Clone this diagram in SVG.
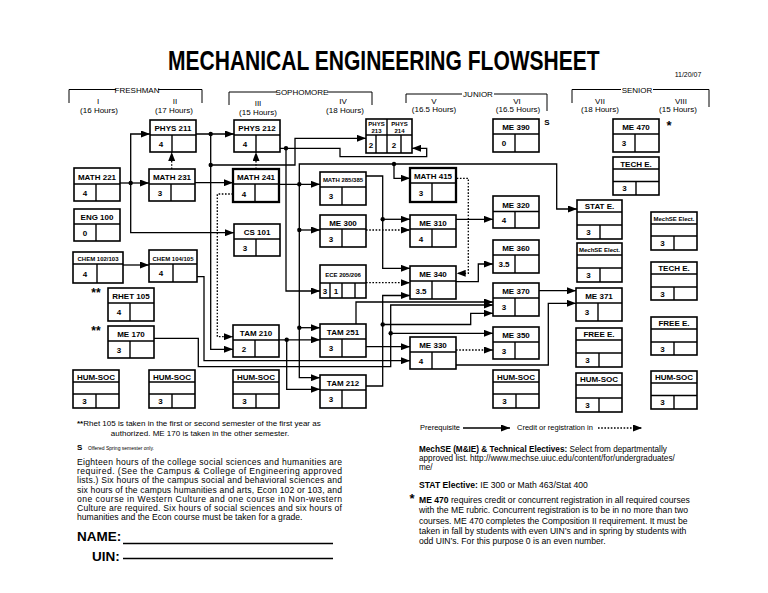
<svg xmlns="http://www.w3.org/2000/svg" width="768" height="593" viewBox="0 0 768 593">
<defs>
<marker id="ah" markerWidth="9" markerHeight="7" refX="9" refY="3.5" orient="auto" markerUnits="userSpaceOnUse"><path d="M0,0 L9,3.5 L0,7 z" fill="#000"/></marker>
<style>
text{font-family:"Liberation Sans",Arial,sans-serif;fill:#000}
.node rect{fill:#fff;stroke:#000;stroke-width:1.6}
.node line{stroke:#000;stroke-width:1.4}
.node.thick rect{stroke-width:2.3}
.hd{font-size:8px;font-weight:bold;text-anchor:middle}
.hs{font-size:6px;font-weight:bold;text-anchor:middle}
.nm{font-size:8px;font-weight:bold;text-anchor:middle}
.br{fill:none;stroke:#000;stroke-width:1}
.sem{font-size:8px;text-anchor:middle;fill:#000}
.ln{fill:none;stroke:#000;stroke-width:1.3}
.arr{marker-end:url(#ah)}
.dt{stroke-dasharray:1.6 1.6}
.jd{fill:#000}
.note{font-size:8.6px}
.nr{font-size:8.2px}
.b{font-weight:bold}
</style>
</defs>
<rect width="768" height="593" fill="#fff"/>

<text transform="translate(168,70) scale(0.751,1)" font-size="28" font-weight="bold">MECHANICAL ENGINEERING FLOWSHEET</text>
<text x="688" y="77" font-size="7" text-anchor="middle">11/20/07</text>

<g id="header">
<path class="br" d="M69,103 V89.5 H116 M158,89.5 H202 V103"/>
<text class="sem" x="137" y="92.5">FRESHMAN</text>
<text class="sem" x="98" y="104">I</text><text class="sem" x="99" y="113">(16 Hours)</text>
<text class="sem" x="175" y="104">II</text><text class="sem" x="174" y="113">(17 Hours)</text>
<path class="br" d="M229,105 V92 H277 M327,92 H372 V105"/>
<text class="sem" x="302" y="95">SOPHOMORE</text>
<text class="sem" x="258" y="106">III</text><text class="sem" x="258" y="115">(15 Hours)</text>
<text class="sem" x="343" y="104">IV</text><text class="sem" x="345" y="113">(18 Hours)</text>
<path class="br" d="M406,103 V94 H462 M494,94 H547 V111"/>
<text class="sem" x="478" y="97">JUNIOR</text>
<text class="sem" x="434" y="104">V</text><text class="sem" x="434" y="112">(16.5 Hours)</text>
<text class="sem" x="517" y="104">VI</text><text class="sem" x="518" y="112">(16.5 Hours)</text>
<path class="br" d="M572,103 V89.5 H621 M653,89.5 H709 V107"/>
<text class="sem" x="637" y="92.5">SENIOR</text>
<text class="sem" x="600" y="104">VII</text><text class="sem" x="600" y="112">(18 Hours)</text>
<text class="sem" x="681" y="104">VIII</text><text class="sem" x="678" y="112">(15 Hours)</text>
</g>

<g id="connectors">
<path class="ln arr" d="M120,183 H149"/>
<path class="ln arr" d="M130.7,183 V134 H150"/>
<path class="ln arr" d="M130.7,183 V232.7 H234"/>
<path class="ln arr" d="M196,134 H234"/>
<path class="ln arr" d="M210.7,134 V349.3 H233"/>
<path class="ln arr" d="M210.7,165 H295 V138.3 H366"/>
<path class="ln dt arr" d="M171.7,169 V152"/>
<path class="ln arr" d="M195,182.7 H233"/>
<path class="ln dt arr" d="M256,169 V152"/>
<path class="ln dt arr" d="M233,194 H217.3 V336.7 H233"/>
<path class="ln arr" d="M280,148.3 H340 V156.7 H426.7 V148.3 H412"/>
<path class="ln arr" d="M286,148.3 V291 H320"/>
<path class="ln arr" d="M279,184.3 H320"/>
<path class="ln arr" d="M299.3,184.3 V164 H556.7 V209 H577"/>
<path class="ln arr" d="M394,164 V178.3 H410"/>
<path class="ln arr" d="M299.3,184.3 V377.7 H320"/>
<path class="ln arr" d="M299.3,230 H320"/>
<path class="ln arr" d="M299.3,327.7 H320"/>
<path class="ln arr" d="M123,265 H149"/>
<path class="ln arr" d="M197,276.7 H204 V360.7 H410"/>
<path class="ln arr" d="M154,338.3 H198.3 V366.7 H390.7 V305 H493"/>
<path class="ln arr" d="M390.7,333.3 H493"/>
<path class="ln arr" d="M279,339.8 H320"/>
<path class="ln arr" d="M286.7,339.8 V389.3 H320"/>
<path class="ln arr" d="M366,176 H382.7 V268.3 H410"/>
<path class="ln arr" d="M382.7,219.3 H410"/>
<path class="ln dt arr" d="M366,230 H410"/>
<path class="ln dt arr" d="M456.7,178.3 H468.3 V273.3 H456.7"/>
<path class="ln arr" d="M456,219.3 H493"/>
<path class="ln arr" d="M456,281.7 H478.3 V264 H493"/>
<path class="ln dt arr" d="M366,282.7 H410"/>
<path class="ln arr" d="M366,386 H382.7 V295.5 H410"/>
<path class="ln arr" d="M382.7,324.5 H470.7 V313.3 H493"/>
<path class="ln arr" d="M356,324 V302 H493"/>
<path class="ln arr" d="M366,346.7 H410"/>
<path class="ln dt arr" d="M456,350 H493"/>
<path class="ln arr" d="M539,290.7 H576"/>
<path class="ln arr" d="M456,365 H548.3 V303.3 H576"/>
<circle class="jd" cx="130.7" cy="183" r="2.2"/>
<circle class="jd" cx="210.7" cy="134" r="2.2"/>
<circle class="jd" cx="210.7" cy="165" r="2.2"/>
<circle class="jd" cx="286" cy="148.3" r="2.2"/>
<circle class="jd" cx="299.3" cy="184.3" r="2.2"/>
<circle class="jd" cx="299.3" cy="230" r="2.2"/>
<circle class="jd" cx="299.3" cy="327.7" r="2.2"/>
<circle class="jd" cx="394" cy="164" r="2.2"/>
<circle class="jd" cx="286.7" cy="339.8" r="2.2"/>
<circle class="jd" cx="382.7" cy="219.3" r="2.2"/>
<circle class="jd" cx="382.7" cy="324.5" r="2.2"/>
<circle class="jd" cx="390.7" cy="333.3" r="2.2"/>
</g>

<g id="phys211" class="node"><rect x="150" y="120" width="46" height="32"/><line x1="150" y1="135" x2="196" y2="135"/><line x1="172" y1="135" x2="172" y2="152"/><text class="hd" x="173" y="131">PHYS 211</text><text class="nm" x="161" y="146.5">4</text></g>
<g id="phys212" class="node"><rect x="234" y="120" width="46" height="32"/><line x1="234" y1="135" x2="280" y2="135"/><line x1="256" y1="135" x2="256" y2="152"/><text class="hd" x="257" y="131">PHYS 212</text><text class="nm" x="245" y="146.5">4</text></g>
<g id="math221" class="node"><rect x="74" y="168" width="46" height="33"/><line x1="74" y1="184" x2="120" y2="184"/><line x1="96" y1="184" x2="96" y2="201"/><text class="hd" x="97" y="179.5">MATH 221</text><text class="nm" x="85" y="196">4</text></g>
<g id="math231" class="node"><rect x="149" y="169" width="46" height="32"/><line x1="149" y1="184" x2="195" y2="184"/><line x1="171" y1="184" x2="171" y2="201"/><text class="hd" x="172" y="180">MATH 231</text><text class="nm" x="160" y="196">3</text></g>
<g id="math241" class="node thick"><rect x="233" y="169" width="46" height="33"/><line x1="233" y1="184" x2="279" y2="184"/><line x1="255" y1="184" x2="255" y2="202"/><text class="hd" x="256" y="180">MATH 241</text><text class="nm" x="244" y="196.5">4</text></g>
<g id="eng100" class="node"><rect x="74" y="209" width="46" height="32"/><line x1="74" y1="224" x2="120" y2="224"/><line x1="96" y1="224" x2="96" y2="241"/><text class="hd" x="97" y="220">ENG 100</text><text class="nm" x="85" y="236">0</text></g>
<g id="cs101" class="node"><rect x="234" y="224" width="46" height="32"/><line x1="234" y1="239" x2="280" y2="239"/><line x1="256" y1="239" x2="256" y2="256"/><text class="hd" x="257" y="235">CS 101</text><text class="nm" x="245" y="251">3</text></g>
<g id="chem102" class="node"><rect x="73" y="252" width="50" height="31"/><line x1="73" y1="264" x2="123" y2="264"/><line x1="97" y1="264" x2="97" y2="283"/><text class="hs" x="98" y="261" font-size="6.6">CHEM 102/103</text><text class="nm" x="85" y="277">4</text></g>
<g id="chem104" class="node"><rect x="149" y="250" width="48" height="32"/><line x1="149" y1="264" x2="197" y2="264"/><line x1="173" y1="264" x2="173" y2="282"/><text class="hs" x="173" y="260.5" font-size="6.6">CHEM 104/105</text><text class="nm" x="161" y="276">4</text></g>
<g id="rhet105" class="node"><text x="96" y="297" font-size="12" font-weight="bold" text-anchor="middle">**</text><rect x="108" y="288" width="46" height="33"/><line x1="108" y1="303" x2="154" y2="303"/><line x1="130" y1="303" x2="130" y2="321"/><text class="hd" x="131" y="299">RHET 105</text><text class="nm" x="119" y="315">4</text></g>
<g id="me170" class="node"><text x="96" y="335" font-size="12" font-weight="bold" text-anchor="middle">**</text><rect x="108" y="326" width="46" height="32"/><line x1="108" y1="341" x2="154" y2="341"/><line x1="130" y1="341" x2="130" y2="358"/><text class="hd" x="131" y="337">ME 170</text><text class="nm" x="119" y="353">3</text></g>
<g id="tam210" class="node"><rect x="233" y="325" width="46" height="32"/><line x1="233" y1="340" x2="279" y2="340"/><line x1="255" y1="340" x2="255" y2="357"/><text class="hd" x="256" y="336">TAM 210</text><text class="nm" x="244" y="352">2</text></g>
<g id="humsoc1" class="node"><rect x="73" y="370" width="46" height="38"/><line x1="73" y1="382" x2="119" y2="382"/><line x1="73" y1="394" x2="119" y2="394"/><line x1="96" y1="394" x2="96" y2="408"/><text class="hd" x="96" y="379.5">HUM-SOC</text><text class="nm" x="84.5" y="404">3</text></g>
<g id="humsoc2" class="node"><rect x="149" y="370" width="46" height="38"/><line x1="149" y1="382" x2="195" y2="382"/><line x1="149" y1="394" x2="195" y2="394"/><line x1="172" y1="394" x2="172" y2="408"/><text class="hd" x="172" y="379.5">HUM-SOC</text><text class="nm" x="160.5" y="404">3</text></g>
<g id="humsoc3" class="node"><rect x="233" y="370" width="46" height="38"/><line x1="233" y1="382" x2="279" y2="382"/><line x1="233" y1="394" x2="279" y2="394"/><line x1="256" y1="394" x2="256" y2="408"/><text class="hd" x="256" y="379.5">HUM-SOC</text><text class="nm" x="244.5" y="404">3</text></g>
<g id="phys213-214" class="node"><rect x="366" y="119" width="46" height="34"/><line x1="366" y1="135" x2="412" y2="135"/><line x1="387" y1="119" x2="387" y2="153"/><line x1="376" y1="135" x2="376" y2="153"/><line x1="401" y1="135" x2="401" y2="153"/><text class="hs" x="376.5" y="125.5" font-size="5.3">PHYS</text><text class="hs" x="376.5" y="132.5" font-size="5.3">213</text><text class="hs" x="399.5" y="125.5" font-size="5.3">PHYS</text><text class="hs" x="399.5" y="132.5" font-size="5.3">214</text><text class="nm" x="371" y="148">2</text><text class="nm" x="394" y="148">2</text></g>
<g id="me390" class="node"><text x="547" y="125" font-size="8" font-weight="bold" text-anchor="middle">S</text><rect x="493" y="119" width="46" height="33"/><line x1="493" y1="134" x2="539" y2="134"/><line x1="515" y1="134" x2="515" y2="152"/><text class="hd" x="516" y="130">ME 390</text><text class="nm" x="504" y="146">0</text></g>
<g id="math285" class="node"><rect x="320" y="172" width="46" height="33"/><line x1="320" y1="187" x2="366" y2="187"/><line x1="342" y1="187" x2="342" y2="205"/><text class="hs" x="343" y="182">MATH 285/385</text><text class="nm" x="331" y="199">3</text></g>
<g id="math415" class="node thick"><rect x="410" y="168" width="46" height="34"/><line x1="410" y1="183" x2="456" y2="183"/><line x1="432" y1="183" x2="432" y2="202"/><text class="hd" x="433" y="179">MATH 415</text><text class="nm" x="421" y="196">3</text></g>
<g id="me300" class="node"><rect x="320" y="215" width="46" height="32"/><line x1="320" y1="229" x2="366" y2="229"/><line x1="342" y1="229" x2="342" y2="247"/><text class="hd" x="343" y="225.5">ME 300</text><text class="nm" x="331" y="241.5">3</text></g>
<g id="me310" class="node"><rect x="410" y="215" width="46" height="32"/><line x1="410" y1="229" x2="456" y2="229"/><line x1="432" y1="229" x2="432" y2="247"/><text class="hd" x="433" y="225.5">ME 310</text><text class="nm" x="421" y="241.5">4</text></g>
<g id="me320" class="node"><rect x="493" y="196" width="46" height="32"/><line x1="493" y1="211.5" x2="539" y2="211.5"/><line x1="515" y1="211.5" x2="515" y2="228"/><text class="hd" x="516" y="207.5">ME 320</text><text class="nm" x="504" y="223">4</text></g>
<g id="me360" class="node"><rect x="493" y="240" width="46" height="33"/><line x1="493" y1="255" x2="539" y2="255"/><line x1="515" y1="255" x2="515" y2="273"/><text class="hd" x="516" y="251">ME 360</text><text class="nm" x="504" y="267">3.5</text></g>
<g id="ece205" class="node"><rect x="320" y="265" width="46" height="33"/><line x1="320" y1="283" x2="366" y2="283"/><line x1="330" y1="283" x2="330" y2="298"/><line x1="342" y1="283" x2="342" y2="298"/><line x1="355" y1="283" x2="355" y2="298"/><text class="hs" x="343" y="277" font-size="6.4">ECE 205/206</text><text class="nm" x="325" y="294">3</text><text class="nm" x="336" y="294">1</text></g>
<g id="me340" class="node"><rect x="410" y="266" width="46" height="33"/><line x1="410" y1="281" x2="456" y2="281"/><line x1="432" y1="281" x2="432" y2="299"/><text class="hd" x="433" y="277">ME 340</text><text class="nm" x="421" y="293.5">3.5</text></g>
<g id="me370" class="node"><rect x="493" y="283" width="46" height="33"/><line x1="493" y1="298" x2="539" y2="298"/><line x1="515" y1="298" x2="515" y2="316"/><text class="hd" x="516" y="294">ME 370</text><text class="nm" x="504" y="310">3</text></g>
<g id="tam251" class="node"><rect x="320" y="324" width="46" height="33"/><line x1="320" y1="339" x2="366" y2="339"/><line x1="342" y1="339" x2="342" y2="357"/><text class="hd" x="343" y="335">TAM 251</text><text class="nm" x="331" y="351">3</text></g>
<g id="me330" class="node"><rect x="410" y="337" width="46" height="32"/><line x1="410" y1="352" x2="456" y2="352"/><line x1="432" y1="352" x2="432" y2="369"/><text class="hd" x="433" y="348">ME 330</text><text class="nm" x="421" y="364">4</text></g>
<g id="me350" class="node"><rect x="493" y="327" width="46" height="32"/><line x1="493" y1="342" x2="539" y2="342"/><line x1="515" y1="342" x2="515" y2="359"/><text class="hd" x="516" y="338">ME 350</text><text class="nm" x="504" y="354">3</text></g>
<g id="humsoc4" class="node"><rect x="493" y="370" width="46" height="38"/><line x1="493" y1="382" x2="539" y2="382"/><line x1="493" y1="394" x2="539" y2="394"/><line x1="516" y1="394" x2="516" y2="408"/><text class="hd" x="516" y="379.5">HUM-SOC</text><text class="nm" x="504.5" y="404">3</text></g>
<g id="tam212" class="node"><rect x="320" y="375" width="46" height="33"/><line x1="320" y1="390" x2="366" y2="390"/><line x1="342" y1="390" x2="342" y2="408"/><text class="hd" x="343" y="386">TAM 212</text><text class="nm" x="331" y="402">3</text></g>
<g id="me470" class="node"><text x="669" y="130" font-size="13" font-weight="bold" text-anchor="middle">*</text><rect x="613" y="119" width="46" height="33"/><line x1="613" y1="134" x2="659" y2="134"/><line x1="635" y1="134" x2="635" y2="152"/><text class="hd" x="636" y="130">ME 470</text><text class="nm" x="624" y="146">3</text></g>
<g id="teche1" class="node"><rect x="613" y="157" width="46" height="38"/><line x1="613" y1="169" x2="659" y2="169"/><line x1="613" y1="181.5" x2="659" y2="181.5"/><line x1="636" y1="181.5" x2="636" y2="195"/><text class="hd" x="636" y="166.5">TECH E.</text><text class="nm" x="624.5" y="191">3</text></g>
<g id="state" class="node"><rect x="577" y="200" width="45" height="39"/><line x1="577" y1="212" x2="622" y2="212"/><line x1="577" y1="225" x2="622" y2="225"/><line x1="600" y1="225" x2="600" y2="239"/><text class="hd" x="599.5" y="209">STAT E.</text><text class="nm" x="588.5" y="235">3</text></g>
<g id="mechse2" class="node"><rect x="651" y="212" width="46" height="38"/><line x1="651" y1="224" x2="697" y2="224"/><line x1="651" y1="236" x2="697" y2="236"/><line x1="674" y1="236" x2="674" y2="250"/><text class="hs" x="674" y="221">MechSE Elect.</text><text class="nm" x="662.5" y="246">3</text></g>
<g id="mechse1" class="node"><rect x="577" y="243" width="45" height="39"/><line x1="577" y1="255" x2="622" y2="255"/><line x1="577" y1="268" x2="622" y2="268"/><line x1="600" y1="268" x2="600" y2="282"/><text class="hs" x="599.5" y="252">MechSE Elect.</text><text class="nm" x="588.5" y="278">3</text></g>
<g id="teche2" class="node"><rect x="651" y="262" width="46" height="38"/><line x1="651" y1="274" x2="697" y2="274"/><line x1="651" y1="287" x2="697" y2="287"/><line x1="674" y1="287" x2="674" y2="300"/><text class="hd" x="674" y="271">TECH E.</text><text class="nm" x="662.5" y="296.5">3</text></g>
<g id="me371" class="node"><rect x="576" y="288" width="46" height="33"/><line x1="576" y1="303" x2="622" y2="303"/><line x1="598" y1="303" x2="598" y2="321"/><text class="hd" x="599" y="299">ME 371</text><text class="nm" x="587" y="315">3</text></g>
<g id="freee1" class="node"><rect x="576" y="328" width="46" height="39"/><line x1="576" y1="340" x2="622" y2="340"/><line x1="576" y1="353" x2="622" y2="353"/><line x1="599" y1="353" x2="599" y2="367"/><text class="hd" x="599" y="337">FREE E.</text><text class="nm" x="587.5" y="363">3</text></g>
<g id="freee2" class="node"><rect x="651" y="317" width="46" height="38"/><line x1="651" y1="329" x2="697" y2="329"/><line x1="651" y1="342" x2="697" y2="342"/><line x1="674" y1="342" x2="674" y2="355"/><text class="hd" x="674" y="326">FREE E.</text><text class="nm" x="662.5" y="351.5">3</text></g>
<g id="humsoc5" class="node"><rect x="576" y="373" width="46" height="39"/><line x1="576" y1="385" x2="622" y2="385"/><line x1="576" y1="398" x2="622" y2="398"/><line x1="599" y1="398" x2="599" y2="412"/><text class="hd" x="599" y="382">HUM-SOC</text><text class="nm" x="587.5" y="408">3</text></g>
<g id="humsoc6" class="node"><rect x="651" y="371" width="46" height="38"/><line x1="651" y1="383" x2="697" y2="383"/><line x1="651" y1="395.5" x2="697" y2="395.5"/><line x1="674" y1="395.5" x2="674" y2="409"/><text class="hd" x="674" y="380">HUM-SOC</text><text class="nm" x="662.5" y="405">3</text></g>

<g id="legend">
<text x="420" y="430" font-size="7.5">Prerequisite</text>
<path class="ln arr" d="M463,428 H510"/>
<text x="517" y="430" font-size="7.5">Credit or registration in</text>
<path class="ln dt arr" d="M598,428 H642"/>
</g>

<g id="notes-left">
<text x="77" y="426" font-size="8"><tspan font-weight="bold">**</tspan>Rhet 105 is taken in the first or second semester of the first year as</text>
<text x="200" y="436" font-size="8" text-anchor="middle">authorized.  ME 170 is taken in the other semester.</text>
<text x="77" y="450" font-size="8" font-weight="bold">S</text>
<text x="88" y="449.5" font-size="5">Offered Spring semester only.</text>
<text class="note" x="77" y="465" textLength="265" lengthAdjust="spacing">Eighteen hours of the college social sciences and humanities are</text>
<text class="note" x="77" y="474.2" textLength="265" lengthAdjust="spacing">required.  (See the Campus &amp; College of Engineering approved</text>
<text class="note" x="77" y="483.4" textLength="265" lengthAdjust="spacing">lists.)  Six hours of the campus social and behavioral sciences and</text>
<text class="note" x="77" y="492.6" textLength="265" lengthAdjust="spacing">six hours of the campus humanities and arts, Econ 102 or 103, and</text>
<text class="note" x="77" y="501.8" textLength="265" lengthAdjust="spacing">one course in Western Culture and one course in Non-western</text>
<text class="note" x="77" y="511" textLength="265" lengthAdjust="spacing">Culture are required.  Six hours of social sciences and six hours of</text>
<text class="note" x="77" y="520.2">humanities and the Econ course must be taken for a grade.</text>
<text x="77" y="541" font-size="13.5" font-weight="bold">NAME:</text>
<line x1="123" y1="543.5" x2="333" y2="543.5" stroke="#000" stroke-width="1.3"/>
<text x="92" y="561" font-size="13.5" font-weight="bold">UIN:</text>
<line x1="123" y1="558.5" x2="333" y2="558.5" stroke="#000" stroke-width="1.3"/>
</g>

<g id="notes-right">
<text class="nr" x="419" y="452"><tspan class="b">MechSE (M&amp;IE) &amp; Technical Electives:</tspan>  Select from departmentally</text>
<text class="nr" x="419" y="461">approved list.  http://www.mechse.uiuc.edu/content/for/undergraduates/</text>
<text class="nr" x="419" y="470">me/</text>
<text class="note" x="419" y="488"><tspan class="b">STAT Elective:</tspan>  IE 300 or Math 463/Stat 400</text>
<text x="412" y="503" font-size="13" font-weight="bold" text-anchor="middle">*</text>
<text class="note" x="419" y="503"><tspan class="b">ME 470</tspan> requires credit or concurrent registration in all required courses</text>
<text class="note" x="419" y="513.3">with the ME rubric.  Concurrent registration is to be in no more than two</text>
<text class="note" x="419" y="523.6">courses. ME 470 completes the Composition II requirement. It must be</text>
<text class="note" x="419" y="534">taken in fall by students with even UIN’s and in spring by students with</text>
<text class="note" x="419" y="544.2">odd UIN’s. For this purpose 0 is an even number.</text>
</g>
</svg>
